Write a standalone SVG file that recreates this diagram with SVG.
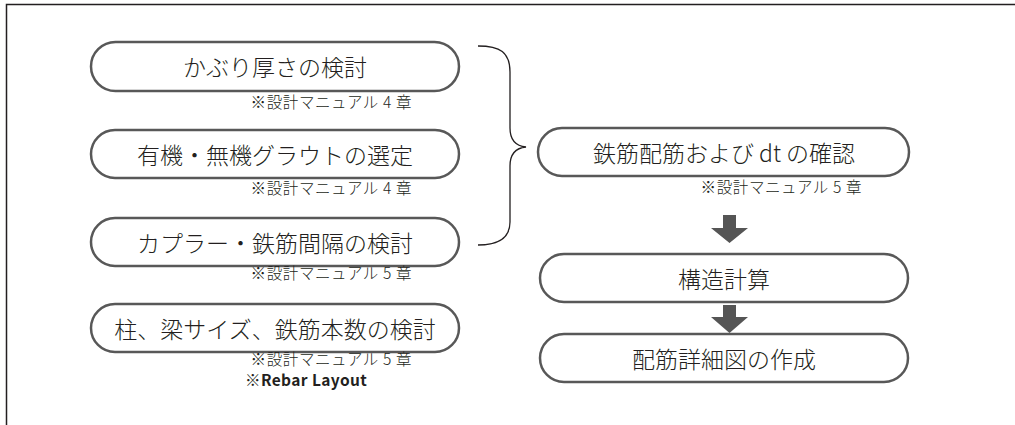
<svg xmlns="http://www.w3.org/2000/svg" width="1015" height="425" viewBox="0 0 1015 425">
<style>
.box{fill:#fff;stroke:#585858;stroke-width:2.5}
.t{font-family:"Noto Sans CJK JP","Noto Sans",sans-serif;font-size:23px;font-weight:300;fill:#231f20;text-anchor:middle;dominant-baseline:central}
.n{font-family:"Noto Sans CJK JP","Noto Sans",sans-serif;font-size:15.5px;font-weight:300;letter-spacing:0.6px;fill:#231f20;text-anchor:end;dominant-baseline:central}
.nb{font-family:"Noto Sans CJK JP","Noto Sans",sans-serif;font-size:15.5px;letter-spacing:0.4px;fill:#231f20;font-weight:bold;dominant-baseline:central}
.arr{fill:#555}
.brace{fill:none;stroke:#231f20;stroke-width:1.3}
</style>
<rect width="1015" height="425" fill="#fff"/>
<rect x="6.5" y="4.5" width="1100" height="500" fill="none" stroke="#231f20" stroke-width="1.5"/>
<g id="n1">
<rect class="box" x="91" y="42" width="368" height="49" rx="24.5"/>
<text class="t" x="275" y="66">かぶり厚さの検討</text>
<text class="n" x="412" y="101">※設計マニュアル 4 章</text>
</g>
<g id="n2">
<rect class="box" x="91" y="130" width="368" height="48" rx="24"/>
<text class="t" x="275" y="154">有機・無機グラウトの選定</text>
<text class="n" x="412" y="187">※設計マニュアル 4 章</text>
</g>
<g id="n3">
<rect class="box" x="91" y="218" width="368" height="48" rx="24"/>
<text class="t" x="275" y="242">カプラー・鉄筋間隔の検討</text>
<text class="n" x="412" y="272">※設計マニュアル 5 章</text>
</g>
<g id="n4">
<rect class="box" x="91" y="304" width="368" height="48" rx="24"/>
<text class="t" x="275" y="328">柱、梁サイズ、鉄筋本数の検討</text>
<text class="n" x="412" y="358">※設計マニュアル 5 章</text>
<text class="nb" x="245" y="379">※Rebar Layout</text>
</g>
<g id="n5">
<rect class="box" x="538" y="128" width="371" height="48" rx="24"/>
<text class="t" x="724" y="152">鉄筋配筋および dt の確認</text>
<text class="n" x="862" y="186">※設計マニュアル 5 章</text>
</g>
<g id="n6">
<rect class="box" x="540" y="254" width="368" height="48" rx="24"/>
<text class="t" x="724" y="278">構造計算</text>
</g>
<g id="n7">
<rect class="box" x="540" y="334" width="368" height="48" rx="24"/>
<text class="t" x="724" y="358">配筋詳細図の作成</text>
</g>
<g id="connectors">
<path class="brace" d="M478,46 C500,46 510,52 510,72 L510,128 C510,140 516,146 526,147 C516,148 510,154 510,166 L510,222 C510,238 498,245 478,245"/>
<path class="arr" d="M723,215 H736 V228 H748 L729.5,243 L711,228 H723 Z"/>
<path class="arr" d="M723,305 H736 V317 H748 L729.5,333 L711,317 H723 Z"/>
</g>
</svg>
